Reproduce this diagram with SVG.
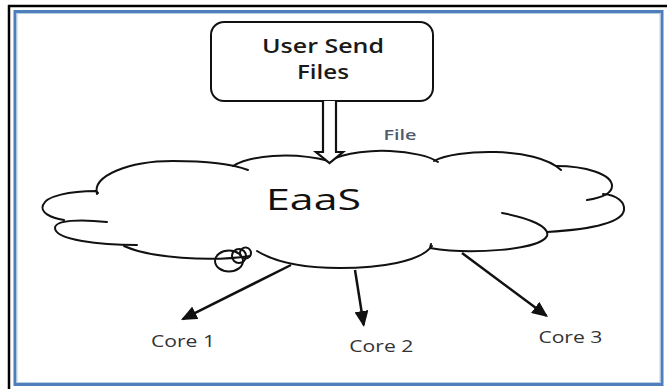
<svg xmlns="http://www.w3.org/2000/svg" width="667" height="389" viewBox="0 0 667 389">
  <style>
    .outline { fill: none; stroke: #111; stroke-width: 2; stroke-linecap: round; stroke-linejoin: round; }
    .flow { stroke: #111; stroke-width: 2.5; fill: none; marker-end: url(#head); }
    .label { font-family: "Open Sans", "Noto Sans", "DejaVu Sans", sans-serif; }
    .core { font-size: 16px; fill: #333; }
  </style>
  <defs>
    <marker id="head" markerUnits="userSpaceOnUse" markerWidth="17" markerHeight="14" refX="14" refY="7" orient="auto">
      <path d="M0,0 L16,7 L0,14 z" fill="#111"/>
    </marker>
  </defs>

  <rect width="667" height="389" fill="#fff"/>

  <!-- page frame -->
  <g id="frame">
    <line x1="8" y1="6" x2="667" y2="6" stroke="#000" stroke-width="2.5"/>
    <line x1="9" y1="5" x2="9" y2="389" stroke="#000" stroke-width="2.5"/>
    <rect x="15" y="11.5" width="647" height="373" fill="none" stroke="#4f7fba" stroke-width="3"/>
    <rect x="17" y="13.5" width="643" height="369" fill="none" stroke="#b7cde6" stroke-width="1"/>
  </g>

  <!-- source box -->
  <g id="user-send-files">
    <rect x="211" y="22" width="222" height="79" rx="13" ry="13" fill="#fff" stroke="#111" stroke-width="2"/>
    <text class="label" x="323" y="52.5" font-size="20" font-weight="600" fill="#1a1a1a" text-anchor="middle" textLength="122" lengthAdjust="spacingAndGlyphs">User Send</text>
    <text class="label" x="323" y="79" font-size="20" font-weight="600" fill="#1a1a1a" text-anchor="middle" textLength="52" lengthAdjust="spacingAndGlyphs">Files</text>
  </g>

  <!-- cloud service -->
  <g id="eaas">
    <path class="outline" d="M97,194 C92,176 128,161 173,161 C205,161 232,164 248,170"/>
    <path class="outline" d="M233,166 C250,156 290,151 329,161"/>
    <path class="outline" d="M329,161 C345,152 375,150 390,151 C410,152 430,156 438,162"/>
    <path class="outline" d="M434,161 C455,149 535,146 561,170"/>
    <path class="outline" d="M556,166 C585,166 612,174 612,186 C612,194 600,198 587,200"/>
    <path class="outline" d="M603,194 C618,195 625,203 624,210 C622,225 580,230 547,232"/>
    <path class="outline" d="M502,213 C530,218 550,227 547,236 C540,250 470,255 430,248 L431,244"/>
    <path class="outline" d="M432,246 C420,262 380,268 340,268 C300,268 275,262 257,251"/>
    <path class="outline" d="M250,256 C210,262 150,258 124,246"/>
    <path class="outline" d="M137,245 C100,245 55,240 55,228 C55,220 80,219 107,222"/>
    <path class="outline" d="M64,220 C50,218 40,212 43,205 C46,196 70,191 96,191 L98,193"/>
    <ellipse class="outline" cx="229" cy="261" rx="14" ry="10.5"/>
    <circle class="outline" cx="239" cy="256" r="7"/>
    <circle class="outline" cx="245.5" cy="253" r="5.5"/>
    <text class="label" x="313.5" y="210" font-size="29" fill="#111" text-anchor="middle" textLength="95" lengthAdjust="spacingAndGlyphs">EaaS</text>
  </g>

  <!-- cores -->
  <g id="core-1">
    <text class="label core" x="183" y="346.7" text-anchor="middle" textLength="64" lengthAdjust="spacingAndGlyphs">Core 1</text>
  </g>
  <g id="core-2">
    <text class="label core" x="381.3" y="351.7" text-anchor="middle" textLength="64" lengthAdjust="spacingAndGlyphs">Core 2</text>
  </g>
  <g id="core-3">
    <text class="label core" x="570.4" y="343.3" text-anchor="middle" textLength="64" lengthAdjust="spacingAndGlyphs">Core 3</text>
  </g>

  <!-- connectors -->
  <g id="connectors">
    <path d="M323,101 L323,152 L316,152 L329.5,163 L343,152 L336,152 L336,101" fill="#fff" stroke="#111" stroke-width="2.2" stroke-linejoin="miter"/>
    <text class="label" x="400" y="140" font-size="14" font-weight="600" fill="#4f5b6e" text-anchor="middle" textLength="33" lengthAdjust="spacingAndGlyphs">File</text>
    <line class="flow" x1="291" y1="265" x2="182.8" y2="319.1"/>
    <line class="flow" x1="355" y1="270" x2="363.7" y2="325"/>
    <line class="flow" x1="462" y1="253" x2="546.4" y2="315.8"/>
  </g>
</svg>
